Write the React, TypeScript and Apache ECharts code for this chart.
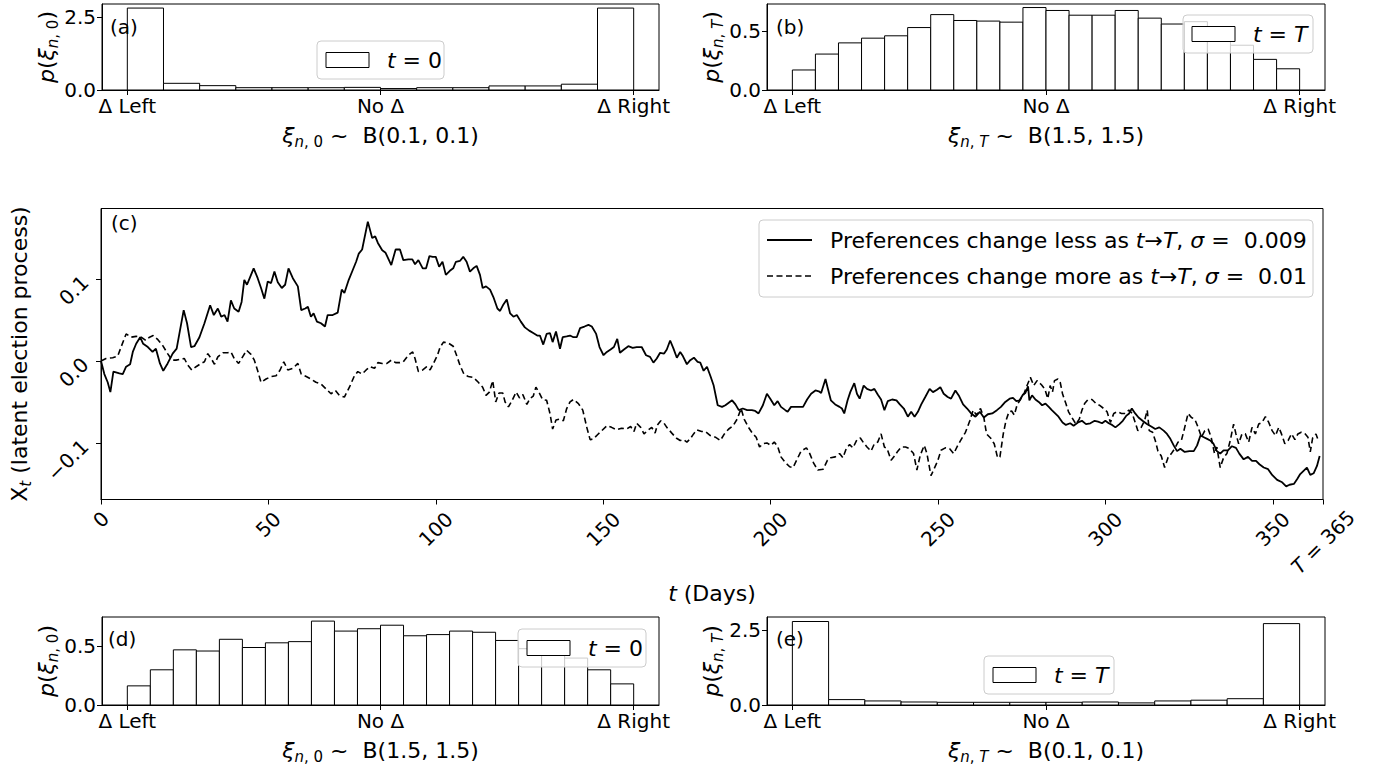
import React, { useEffect, useRef } from 'react';
import * as echarts from 'echarts';

const FONT = 'DejaVu Sans';

// ---------- histogram data (densities per bin) ----------
const histA = [2.82, 0.23, 0.15, 0.08, 0.08, 0.08, 0.09, 0.05, 0.08, 0.08, 0.14, 0.14, 0.2, 2.82];
const histB = [0.17, 0.305, 0.4, 0.44, 0.46, 0.53, 0.64, 0.59, 0.585, 0.576, 0.7, 0.675, 0.635, 0.635, 0.675, 0.61, 0.56, 0.58, 0.48, 0.38, 0.26, 0.18];
const histD = [0.163, 0.3, 0.47, 0.46, 0.56, 0.49, 0.53, 0.54, 0.715, 0.63, 0.65, 0.68, 0.59, 0.6, 0.63, 0.62, 0.55, 0.48, 0.44, 0.4, 0.3, 0.18];
const histE = [2.78, 0.18, 0.135, 0.1, 0.09, 0.09, 0.09, 0.09, 0.1, 0.07, 0.135, 0.16, 0.21, 2.71];
const histTickValues = [0, 0.5, 1];
const histTickLabels = ['Δ Left', 'No Δ', 'Δ Right'];

// ---------- latent process paths ----------
const solidDays = [0, 1, 2, 2.8, 3.7, 5.5, 6.5, 7.5, 8.7, 9.5, 10.5, 11.7, 12.6, 14, 15.4, 16.4, 17.6, 18.6, 19.9, 21.4, 22.6, 23.4, 24.7, 25.7, 26.9, 27.9, 29.4, 30.9, 32.6, 33.7, 34.9, 35.9, 36.9, 37.8, 38.8, 39.8, 41.1, 42, 42.8, 43.6, 44.6, 45.6, 46.8, 47.8, 48.8, 49.8, 50.8, 51.8, 52.8, 54, 55, 56, 57.3, 58.8, 59.8, 61, 61.8, 62.7, 63.5, 64.5, 65.7, 66.9, 67.7, 69.2, 70.7, 71.9, 72.7, 74, 75.2, 76.2, 77, 78, 79.7, 81, 81.9, 82.7, 84, 85, 86.7, 88,
  89.3, 90.3, 91.8, 93, 93.8, 94.8, 96.1, 97.1, 98.1, 99.1, 100, 101, 102, 103, 104.2, 105.2, 106, 107.2, 108.2, 109.2, 110.2, 111.2, 112.2, 113.2, 114, 115, 116.2, 117.2, 118.4, 119.2, 120.2, 121.2, 122.2, 123.2, 124.2, 125.4, 126.6, 127.9, 129.1, 130.3, 131.1, 132.1, 133.1, 134.1, 134.9, 135.9, 137.1, 137.9, 139.1, 140.1, 141.1, 142.1, 143.1, 144.4, 145.6, 146.6, 147.9, 148.9, 150.1, 151.1, 152.2, 153.2, 154.2, 155, 156.2, 157.5, 158.8, 160, 161.5, 162.8, 164, 165, 166, 167, 168.2, 169, 170, 171, 172, 173, 173.8, 175, 176, 177.1, 178.2,
  179, 180, 181, 182, 183, 184.2, 185.5, 186.5, 187.5, 188.5, 189.5, 190.5, 191.7, 193, 194.4, 195.4, 196.4, 197.7, 198.9, 199.9, 201.1, 202.1, 203.1, 204.4, 205.1, 206.1, 207.1, 208.4, 209.7, 210.9, 212.1, 213.4, 214.4, 215.1, 216.4, 217, 218, 219.3, 220.6, 221.3, 222, 223, 223.8, 225, 225.8, 226.6, 227.8, 228.8, 230, 231, 232, 233, 234, 235, 236.3, 237.6, 238.6, 239.8, 241, 242, 243, 244, 245, 246.2, 247.5, 248.5, 249.7, 250.7, 251.7, 252.9, 253.9, 255.2, 256.2, 257.5, 258.7, 259.9, 261.2, 262.5, 263.7, 264.9, 266.2, 267.6,
  268.8, 270.1, 271.4, 272.4, 273.4, 274.4, 275.4, 276.1, 276.9, 277.3, 278.1, 279.1, 280.1, 281.1, 282.1, 283.1, 284, 285, 286, 287.2, 288.2, 289.5, 290.5, 291.8, 293, 294.2, 295.5, 296.8, 297.8, 299, 300, 301, 302, 303, 304.2, 305.2, 306.2, 307.1, 307.9, 308.9, 309.9, 311.1, 312.4, 313.7, 314.9, 316.1, 317.4, 318.4, 319.4, 320.4, 321.4, 322.4, 323.7, 325.1, 326.4, 327.4, 328.4, 329.4, 330.4, 331.3, 332.3, 333.3, 334.3, 335.3, 336.6, 337.8, 339, 340, 341.3, 342.6, 343.8, 345, 346, 347.3, 348.6, 349.8, 351.3, 352.8, 354, 355, 356.3, 357.3, 358.2, 359.2, 360.2, 361.2, 362.2, 363.2, 364];
const solidVals = [0, -0.016, -0.026, -0.038, -0.013, -0.015, -0.016, -0.007, -0.004, 0.011, 0.021, 0.029, 0.021, 0.017, 0.011, 0.015, -0.003, -0.012, -0.003, 0.009, 0.015, 0.033, 0.062, 0.046, 0.017, 0.018, 0.029, 0.046, 0.068, 0.056, 0.064, 0.054, 0.056, 0.048, 0.074, 0.064, 0.06, 0.072, 0.099, 0.093, 0.103, 0.113, 0.101, 0.089, 0.076, 0.097, 0.095, 0.109, 0.096, 0.089, 0.093, 0.113, 0.101, 0.091, 0.062, 0.064, 0.066, 0.054, 0.058, 0.048, 0.046, 0.042, 0.056, 0.056, 0.059, 0.087, 0.083, 0.099, 0.111, 0.121, 0.131, 0.136, 0.17, 0.15, 0.152, 0.144, 0.135, 0.132, 0.117, 0.136,
  0.136, 0.123, 0.124, 0.124, 0.118, 0.123, 0.113, 0.113, 0.128, 0.127, 0.127, 0.115, 0.121, 0.105, 0.11, 0.113, 0.121, 0.122, 0.127, 0.121, 0.109, 0.113, 0.116, 0.105, 0.089, 0.091, 0.087, 0.078, 0.064, 0.061, 0.069, 0.075, 0.058, 0.054, 0.056, 0.048, 0.041, 0.037, 0.034, 0.031, 0.031, 0.02, 0.033, 0.034, 0.023, 0.036, 0.015, 0.029, 0.03, 0.031, 0.029, 0.029, 0.04, 0.042, 0.044, 0.042, 0.033, 0.017, 0.007, 0.011, 0.014, 0.017, 0.027, 0.01, 0.014, 0.018, 0.016, 0.017, 0.017, 0.007, 0.005, -0.002, 0.003, 0.01, 0.009, 0.014, 0.025, 0.015, 0.004, 0.011, 0.006, -0.004, 0.001, 0.004, -0.001,
  -0.002, -0.012, -0.007, -0.018, -0.03, -0.054, -0.056, -0.054, -0.051, -0.048, -0.053, -0.06, -0.058, -0.06, -0.06, -0.061, -0.064, -0.054, -0.04, -0.046, -0.054, -0.049, -0.056, -0.06, -0.062, -0.056, -0.056, -0.056, -0.056, -0.047, -0.04, -0.036, -0.037, -0.039, -0.022, -0.032, -0.048, -0.053, -0.056, -0.058, -0.064, -0.048, -0.038, -0.027, -0.04, -0.046, -0.03, -0.034, -0.036, -0.034, -0.041, -0.047, -0.06, -0.049, -0.047, -0.048, -0.053, -0.058, -0.068, -0.062, -0.068, -0.062, -0.053, -0.044, -0.034, -0.038, -0.035, -0.032, -0.04, -0.044, -0.046, -0.036, -0.042, -0.053, -0.058, -0.064, -0.068, -0.062, -0.069, -0.065, -0.064, -0.06,
  -0.056, -0.05, -0.046, -0.045, -0.049, -0.048, -0.041, -0.039, -0.031, -0.048, -0.042, -0.047, -0.05, -0.054, -0.052, -0.056, -0.06, -0.064, -0.068, -0.075, -0.078, -0.076, -0.079, -0.075, -0.073, -0.077, -0.076, -0.073, -0.074, -0.076, -0.073, -0.076, -0.078, -0.081, -0.077, -0.073, -0.067, -0.064, -0.058, -0.064, -0.069, -0.073, -0.077, -0.08, -0.083, -0.081, -0.085, -0.089, -0.095, -0.103, -0.11, -0.107, -0.111, -0.11, -0.11, -0.103, -0.091, -0.093, -0.095, -0.097, -0.101, -0.11, -0.113, -0.109, -0.109, -0.104, -0.106, -0.113, -0.12, -0.117, -0.122, -0.122, -0.126, -0.13, -0.132, -0.139, -0.145, -0.148, -0.153, -0.151, -0.15, -0.144, -0.138, -0.134, -0.13, -0.139, -0.137, -0.128, -0.116];

const dashedDays = [0, 1.5, 3.5, 5, 6, 7.5, 9, 10.5, 12, 13.4, 14.5, 15.6, 17, 18.4, 19.9, 21.2, 22.4, 24.9, 25.9, 27.1, 28.4, 29.9, 30.9, 31.9, 32.9, 33.9, 34.9, 36.4, 37.8, 38.8, 39.8, 41.1, 42.3, 43.5, 44.8, 45.8, 46.8, 47.8, 49.3, 50.8, 52.3, 53.5, 54.6, 55.8, 57.3, 58.8, 59.8, 61.3, 62.7, 64.2, 65.7, 67.2, 68.7, 70, 71.2, 72.7, 74.2, 75.7, 76.7, 78, 79.2, 80.4, 81.7, 82.7, 84, 85.4, 86.7, 88,
  89.3, 90.3, 91.8, 93.1, 93.8, 94.8, 96.1, 97.3, 98.3, 99.3, 100.5, 101.3, 102.3, 103.7, 105.2, 106.2, 107.2, 108.4, 109.7, 111.2, 112.7, 114, 115, 116, 117, 117.9, 118.9, 120, 120.7, 121.7, 122.7, 124, 125, 126, 127.2, 128.1, 129.1, 129.9, 130.9, 131.9, 133.1, 134.1, 134.9, 135.9, 136.9, 138.1, 139.1, 140.1, 141.1, 142.6, 143.9, 145.1, 146.1, 147.1, 148.3, 149.6, 151.1, 152.5, 154, 155.5, 157, 158.2, 159.2, 160, 161.2, 162.2, 163.2, 164.5, 165.5, 166.2, 167.2, 168.2, 169, 170.5, 171.8, 173, 174, 175, 176, 177, 178,
  179.4, 180.5, 182, 183.5, 185, 186.2, 187.5, 188.8, 190, 191.2, 192.1, 193.4, 194.7, 195.7, 196.7, 197.7, 198.9, 200.1, 201.1, 202.1, 203.1, 204.4, 205.7, 206.7, 207.9, 209.1, 210.7, 211.7, 212.9, 214.1, 215.7, 217, 218, 219.3, 220.6, 221.6, 222.6, 223.6, 224.6, 225.8, 226.8, 227.8, 228.8, 230, 231, 232, 233, 234, 234.8, 236, 237, 238, 239, 240.3, 241.5, 242.7, 243.7, 244.7, 245.9, 246.7, 247.9, 248.9, 249.9, 250.9, 252.2, 253.5, 254.7, 255.9, 256.9, 258.2, 259.5, 260.5, 261.5, 262.7, 263.7, 264.5, 265.7, 266.8, 267.8,
  268.5, 269.5, 270.3, 271.2, 272, 272.8, 273.6, 274.6, 275.6, 276.6, 277.6, 278.6, 279.6, 280.9, 281.9, 282.8, 283.5, 284.2, 284.8, 285.8, 286.5, 287.2, 288.2, 289, 290, 291.2, 292.2, 293, 293.8, 294.8, 296, 297.2, 298.2, 299.5, 300.5, 301.5, 302.5, 303.5, 304.8, 306, 307, 308, 308.9, 309.7, 310.7, 311.7, 312.5, 313.1, 314.1, 314.9, 315.7, 316.7, 317.7, 318.7, 319.7, 320.7, 321.7, 322.7, 323.7, 324.7, 325.7, 326.7, 327.7, 328.7, 329.7, 330.7, 331.6, 332.6, 333.3, 334.3, 335.3, 336.3, 337.3, 338.3, 339, 339.8, 340.8, 341.8, 342.8, 343.8, 344.8, 345.8, 346.8, 347.8, 348.8, 349.8, 350.8, 351.8, 352.6, 353.6, 354.6, 355.6, 356.6, 357.5, 358.5, 359.5, 360.5, 361.2, 361.9, 362.9, 363.7];
const dashedVals = [0, 0.003, 0.004, 0.006, 0.017, 0.033, 0.029, 0.03, 0.029, 0.025, 0.029, 0.031, 0.026, 0.019, 0.009, 0.001, 0.001, 0.003, -0.005, -0.011, -0.007, -0.003, -0.001, 0.009, 0.003, -0.004, 0.005, 0.01, 0.01, 0.011, 0.003, -0.003, 0.005, 0.013, 0.008, 0.001, -0.012, -0.026, -0.022, -0.019, -0.018, -0.011, -0.001, -0.011, -0.009, -0.003, -0.016, -0.019, -0.022, -0.026, -0.028, -0.034, -0.04, -0.036, -0.042, -0.044, -0.032, -0.018, -0.013, -0.016, -0.011, -0.007, -0.009, -0.002, -0.003, -0.003, 0.001, -0.002,
  -0.002, -0.001, 0.007, 0.011, 0.003, -0.013, -0.011, -0.007, -0.011, -0.003, 0.007, 0.017, 0.023, 0.022, 0.018, 0.007, -0.005, -0.016, -0.019, -0.02, -0.026, -0.032, -0.042, -0.038, -0.024, -0.05, -0.039, -0.039, -0.05, -0.056, -0.049, -0.038, -0.045, -0.041, -0.053, -0.046, -0.043, -0.032, -0.039, -0.047, -0.048, -0.064, -0.083, -0.072, -0.071, -0.073, -0.058, -0.05, -0.047, -0.052, -0.06, -0.081, -0.096, -0.095, -0.09, -0.085, -0.079, -0.081, -0.084, -0.082, -0.083, -0.08, -0.086, -0.076, -0.081, -0.089, -0.085, -0.081, -0.088, -0.078, -0.073, -0.076, -0.081, -0.088, -0.094, -0.097, -0.096, -0.099, -0.095, -0.089, -0.084,
  -0.086, -0.086, -0.091, -0.093, -0.097, -0.089, -0.083, -0.079, -0.071, -0.058, -0.071, -0.081, -0.089, -0.093, -0.105, -0.101, -0.1, -0.103, -0.099, -0.104, -0.117, -0.124, -0.129, -0.13, -0.12, -0.11, -0.106, -0.113, -0.125, -0.133, -0.132, -0.121, -0.118, -0.117, -0.113, -0.118, -0.107, -0.102, -0.106, -0.096, -0.094, -0.1, -0.105, -0.11, -0.101, -0.099, -0.089, -0.105, -0.107, -0.121, -0.116, -0.11, -0.105, -0.105, -0.107, -0.113, -0.133, -0.115, -0.103, -0.113, -0.14, -0.131, -0.122, -0.109, -0.106, -0.107, -0.113, -0.103, -0.096, -0.087, -0.073, -0.06, -0.066, -0.058, -0.069, -0.089, -0.094, -0.101, -0.118,
  -0.117, -0.089, -0.073, -0.062, -0.061, -0.066, -0.054, -0.047, -0.041, -0.03, -0.02, -0.03, -0.024, -0.029, -0.034, -0.046, -0.03, -0.038, -0.024, -0.022, -0.026, -0.04, -0.052, -0.062, -0.069, -0.077, -0.071, -0.06, -0.052, -0.047, -0.047, -0.052, -0.054, -0.058, -0.062, -0.075, -0.064, -0.062, -0.064, -0.064, -0.06, -0.064, -0.075, -0.085, -0.081, -0.073, -0.06, -0.085, -0.087, -0.097, -0.11, -0.116, -0.13, -0.118, -0.113, -0.107, -0.099, -0.097, -0.081, -0.064, -0.069, -0.071, -0.081, -0.093, -0.085, -0.083, -0.093, -0.113, -0.105, -0.13, -0.118, -0.113, -0.097, -0.077, -0.089, -0.101, -0.089, -0.089, -0.099, -0.081, -0.089, -0.077, -0.075, -0.068, -0.075, -0.085, -0.091, -0.081, -0.089, -0.101, -0.097, -0.089, -0.096, -0.089, -0.087, -0.088, -0.093, -0.111, -0.094, -0.089, -0.098];

const dayTicks = [0, 50, 100, 150, 200, 250, 300, 350, 365];
const xtTicks = [-0.1, 0, 0.1];

// ---------- helpers ----------
const base = { fontFamily: FONT, color: '#000' };
const richSet = (size: number) => ({
  r: { ...base, fontSize: size, verticalAlign: 'top' },
  i: { ...base, fontSize: size, fontStyle: 'italic', verticalAlign: 'top' },
  s: { ...base, fontSize: Math.round(size * 0.7), fontStyle: 'italic', verticalAlign: 'top', padding: [Math.round(size * 0.45), 0, 0, 0] },
  su: { ...base, fontSize: Math.round(size * 0.7), verticalAlign: 'top', padding: [Math.round(size * 0.45), 0, 0, 0] },
});

const grids = [
  { left: 102, top: 4, width: 557, height: 86 },
  { left: 767, top: 4, width: 558, height: 86 },
  { left: 101, top: 208.5, width: 1222, height: 291 },
  { left: 102, top: 617, width: 557, height: 88 },
  { left: 767, top: 617, width: 558, height: 88 },
];

const LZ = 100;

function histXAxis(gridIndex: number, name: string) {
  return {
    type: 'value', gridIndex, min: -0.05, max: 1.05,
    axisLine: { show: true, onZero: false, lineStyle: { color: '#000', width: 1 } },
    axisTick: { show: true, length: 5, lineStyle: { color: '#000' }, customValues: histTickValues },
    axisLabel: {
      customValues: histTickValues, fontSize: 20, fontFamily: FONT, color: '#000', margin: 6,
      formatter: (v: number) => histTickLabels[histTickValues.findIndex((t) => Math.abs(t - v) < 1e-6)] ?? '',
    },
    splitLine: { show: false },
    name, nameLocation: 'middle', nameGap: 34,
    nameTextStyle: { ...base, fontSize: 22, rich: richSet(22) },
  };
}

function histYAxis(gridIndex: number, max: number, ticks: number[], name: string) {
  return {
    type: 'value', gridIndex, min: 0, max,
    axisLine: { show: true, onZero: false, lineStyle: { color: '#000', width: 1 } },
    axisTick: { show: true, length: 5, lineStyle: { color: '#000' }, customValues: ticks },
    axisLabel: { customValues: ticks, fontSize: 20, fontFamily: FONT, color: '#000', margin: 6, formatter: (v: number) => v.toFixed(1) },
    splitLine: { show: false },
    name, nameLocation: 'middle', nameGap: 38, nameRotate: 90,
    nameTextStyle: { ...base, fontSize: 22, rich: richSet(22) },
  };
}

function histSeries(idx: number, heights: number[]) {
  const n = heights.length;
  const data = heights.map((h, i) => [i / n, (i + 1) / n, h]);
  return {
    type: 'custom', xAxisIndex: idx, yAxisIndex: idx, data, silent: true, z: 2,
    encode: { x: [0, 1], y: 2 },
    renderItem: (_p: any, api: any) => {
      const a = api.coord([api.value(0), api.value(2)]);
      const b = api.coord([api.value(1), 0]);
      return {
        type: 'rect',
        shape: { x: a[0], y: a[1], width: b[0] - a[0], height: b[1] - a[1] },
        style: { fill: '#fff', stroke: '#000', lineWidth: 1 },
      };
    },
  };
}

function smallLegend(x: number, y: number, w: number, h: number, label: string) {
  return [
    { type: 'rect', z: LZ, shape: { x, y, width: w, height: h, r: 4 }, style: { fill: 'rgba(255,255,255,0.8)', stroke: '#cccccc', lineWidth: 1 } },
    { type: 'rect', z: LZ + 1, shape: { x: x + 9, y: y + h / 2 - 7.5, width: 43, height: 15 }, style: { fill: '#fff', stroke: '#000', lineWidth: 1 } },
    { type: 'text', z: LZ + 1, x: x + 70, y: y + h / 2, style: { text: label, rich: richSet(22), ...base, fill: '#000', fontSize: 22, verticalAlign: 'middle' } },
  ];
}

function panelLetter(x: number, y: number, t: string) {
  return { type: 'text', x, y, z: 50, style: { text: t, fontFamily: FONT, fontSize: 20, fill: '#000', verticalAlign: 'middle' } };
}

// rich padding shifts for the rotated, centred day labels
const dayPad = (v: number) => (v === 0 ? 0 : v === 50 ? 7 : v === 365 ? 32 : 14);

export default function App() {
  const ref = useRef<HTMLDivElement>(null);
  useEffect(() => {
    if (!ref.current) return;
    const chart = echarts.init(ref.current, undefined, { renderer: 'svg' });
    const dayRich: any = {};
    [0, 7, 14, 32].forEach((p) => {
      dayRich['n' + p] = { ...base, fontSize: 20, padding: [p, p, 0, 0] };
      dayRich['ti' + p] = { ...base, fontSize: 20, fontStyle: 'italic', padding: [p, 0, 0, 0] };
      dayRich['te' + p] = { ...base, fontSize: 20, padding: [p, p, 0, 0] };
    });
    const legendRich = richSet(22);
    const option: any = {
      animation: false,
      backgroundColor: '#fff',
      textStyle: { fontFamily: FONT },
      grid: grids.map((g) => ({ ...g, show: true, borderColor: '#000', borderWidth: 1, backgroundColor: 'transparent', containLabel: false })),
      xAxis: [
        histXAxis(0, '{i|ξ}{s|n}{su|, 0}{r| ~  B(0.1, 0.1)}'),
        histXAxis(1, '{i|ξ}{s|n}{su|, }{s|T}{r| ~  B(1.5, 1.5)}'),
        {
          type: 'value', gridIndex: 2, min: 0, max: 365,
          axisLine: { show: true, onZero: false, lineStyle: { color: '#000', width: 1 } },
          axisTick: { show: true, length: 5, lineStyle: { color: '#000' }, customValues: dayTicks },
          axisLabel: {
            customValues: dayTicks, rotate: 45, align: 'center', verticalAlign: 'middle', margin: 20,
            fontSize: 20, fontFamily: FONT, color: '#000', rich: dayRich,
            formatter: (v: number) => {
              const p = dayPad(v);
              if (v === 365) return `{ti${p}|T}{te${p}| = 365}`;
              return `{n${p}|${v}}`;
            },
          },
          splitLine: { show: false },
          name: '{i|t}{r| (Days)}', nameLocation: 'middle', nameGap: 83,
          nameTextStyle: { ...base, fontSize: 22, rich: richSet(22) },
        },
        histXAxis(3, '{i|ξ}{s|n}{su|, 0}{r| ~  B(1.5, 1.5)}'),
        histXAxis(4, '{i|ξ}{s|n}{su|, }{s|T}{r| ~  B(0.1, 0.1)}'),
      ],
      yAxis: [
        histYAxis(0, 2.96, [0, 2.5], '{i|p}{r|(}{i|ξ}{s|n}{su|, 0}{r|)}'),
        histYAxis(1, 0.73, [0, 0.5], '{i|p}{r|(}{i|ξ}{s|n}{su|, }{s|T}{r|)}'),
        {
          type: 'value', gridIndex: 2, min: -0.169, max: 0.186,
          axisLine: { show: true, onZero: false, lineStyle: { color: '#000', width: 1 } },
          axisTick: { show: true, length: 5, lineStyle: { color: '#000' }, customValues: xtTicks },
          axisLabel: {
            customValues: xtTicks, rotate: 45, margin: 16, fontSize: 20, fontFamily: FONT, color: '#000',
            formatter: (v: number) => (v < 0 ? '−' + Math.abs(v).toFixed(1) : v.toFixed(1)),
          },
          splitLine: { show: false },
          name: '{r|X}{s|t}{r| (latent election process)}', nameLocation: 'middle', nameGap: 62, nameRotate: 90,
          nameTextStyle: { ...base, fontSize: 22, rich: richSet(22) },
        },
        histYAxis(3, 0.75, [0, 0.5], '{i|p}{r|(}{i|ξ}{s|n}{su|, 0}{r|)}'),
        histYAxis(4, 2.93, [0, 2.5], '{i|p}{r|(}{i|ξ}{s|n}{su|, }{s|T}{r|)}'),
      ],
      series: [
        histSeries(0, histA),
        histSeries(1, histB),
        histSeries(3, histD),
        histSeries(4, histE),
        {
          type: 'line', xAxisIndex: 2, yAxisIndex: 2, symbol: 'none', silent: true, z: 3,
          data: solidDays.map((d, i) => [d, solidVals[i]]),
          lineStyle: { color: '#000', width: 1.8, type: 'solid' },
        },
        {
          type: 'line', xAxisIndex: 2, yAxisIndex: 2, symbol: 'none', silent: true, z: 3,
          data: dashedDays.map((d, i) => [d, dashedVals[i]]),
          lineStyle: { color: '#000', width: 1.6, type: [6, 3.5] },
        },
      ],
      graphic: [
        panelLetter(110, 27, '(a)'),
        panelLetter(776, 27, '(b)'),
        panelLetter(111, 223, '(c)'),
        panelLetter(108, 639, '(d)'),
        panelLetter(776, 639, '(e)'),
        ...smallLegend(317, 41, 127, 38, '{i|t}{r| = 0}'),
        ...smallLegend(1183, 15, 130, 38, '{i|t}{r| = }{i|T}'),
        ...smallLegend(518, 629, 128, 38, '{i|t}{r| = 0}'),
        ...smallLegend(984, 656, 130, 38, '{i|t}{r| = }{i|T}'),
        { type: 'rect', z: LZ, shape: { x: 759, y: 220, width: 554, height: 77, r: 4 }, style: { fill: 'rgba(255,255,255,0.8)', stroke: '#cccccc', lineWidth: 1 } },
        { type: 'line', z: LZ + 1, shape: { x1: 767, y1: 240, x2: 812, y2: 240 }, style: { stroke: '#000', lineWidth: 1.8 } },
        { type: 'line', z: LZ + 1, shape: { x1: 767, y1: 276, x2: 812, y2: 276 }, style: { stroke: '#000', lineWidth: 1.6, lineDash: [6, 3.5] } },
        { type: 'text', z: LZ + 1, x: 830, y: 240, style: { text: '{r|Preferences change less as }{i|t}{r|→}{i|T}{r|, }{i|σ}{r| =  0.009}', rich: legendRich, fontFamily: FONT, fontSize: 22, fill: '#000', verticalAlign: 'middle' } },
        { type: 'text', z: LZ + 1, x: 830, y: 276, style: { text: '{r|Preferences change more as }{i|t}{r|→}{i|T}{r|, }{i|σ}{r| =  0.01}', rich: legendRich, fontFamily: FONT, fontSize: 22, fill: '#000', verticalAlign: 'middle' } },
      ],
    };
    chart.setOption(option);
    return () => chart.dispose();
  }, []);
  return <div ref={ref} style={{ position: 'absolute', left: 0, top: 0, width: 1377, height: 772 }} />;
}
